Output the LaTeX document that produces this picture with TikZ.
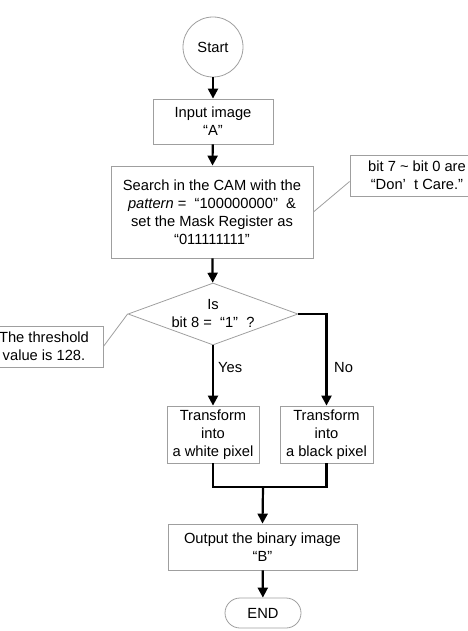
\documentclass[tikz,border=0pt]{standalone}
\usepackage{fontspec}
\setmainfont{Liberation Sans}
\usetikzlibrary{arrows.meta,shapes.geometric,calc}
\begin{document}
\begin{tikzpicture}[x=1pt,y=-1pt,
  box/.style={draw=gray!75, line width=0.8pt, rectangle, align=center, inner sep=0pt,
    font=\fontsize{14.7}{18}\selectfont},
  txt/.style={align=center, inner sep=0pt, font=\fontsize{14.7}{18}\selectfont},
  flow/.style={line width=2.2pt, -{Triangle[length=10pt,width=10pt]}},
  flowline/.style={line width=2.2pt},
  note/.style={draw=gray!75, line width=0.8pt}]
\useasboundingbox (0,0) rectangle (467,631);
\node[box, circle, minimum size=60pt] (start) at (213,47) {Start};
\node[box, minimum width=120pt, minimum height=45pt] (input) at (213,121.5) {Input image\\“A”};
\node[box, minimum width=202pt, minimum height=92pt] (search) at (212,212)
  {Search in the CAM with the\\\textit{pattern} =~~“100000000”~~\&\\set the Mask Register as\\“011111111”};
\node[box, minimum width=134pt, minimum height=41pt] (care) at (417,175.5)
  {bit 7 \textasciitilde{} bit 0 are\\“Don’~~t Care.”};
\node[draw=gray!75, line width=0.8pt, diamond, minimum width=170pt, minimum height=62pt, inner sep=0pt] (dec) at (213,314) {};
\node[txt] (dectext) at (213,314) {Is\\bit 8 =~~“1”~~?};
\node[box, minimum width=118pt, minimum height=41pt] (thr) at (44,346.5) {The threshold\\value is 128.};
\node[box, minimum width=92pt, minimum height=57pt] (white) at (213,434.5) {Transform\\into\\a white pixel};
\node[box, minimum width=93pt, minimum height=57pt] (black) at (326.5,434.5) {Transform\\into\\a black pixel};
\node[box, minimum width=189pt, minimum height=46pt] (output) at (262.5,547) {Output the binary image\\“B”};
\node[box, rounded corners=15pt, minimum width=76pt, minimum height=30pt] (end) at (263,613) {END};
\coordinate (merge) at (263,487);
\node[txt, anchor=west] (yes) at (218,368) {Yes};
\node[txt, anchor=west] (no) at (334,368) {No};
% connectors
\draw[flow] (start) -- (input);
\draw[flow] (input) -- (search);
\draw[flow] (search) -- (dec);
\draw[flow] (dec.south) -- (white.north);
\draw[flow] (dec.east) -| (black.north);
\draw[flowline] (white.south) |- (merge) -| (black.south);
\draw[flow] (merge) -- (output.north);
\draw[flow] (output) -- (end);
\draw[note] ($(care.west)+(0,6)$) -- (search.east);
\draw[note] (thr.east) -- (dec.west);
\end{tikzpicture}
\end{document}
